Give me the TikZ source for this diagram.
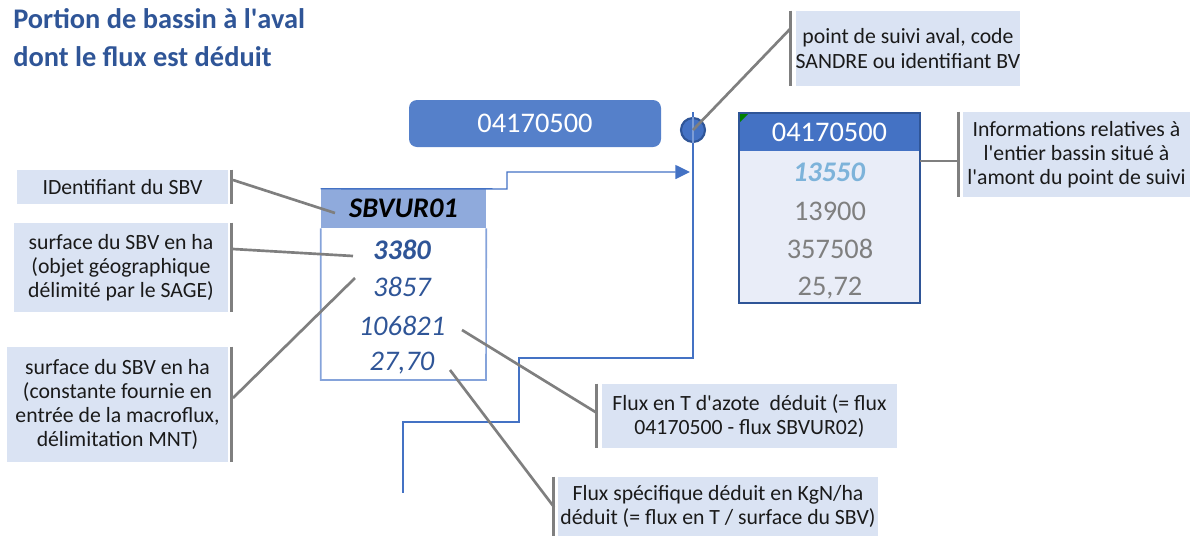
\documentclass[tikz,border=0pt]{standalone}
\usepackage{fontspec}
\setmainfont{Carlito}
\usetikzlibrary{arrows.meta,calc}
\definecolor{titleblue}{HTML}{2F5597}
\definecolor{boxblue}{HTML}{5580CA}
\definecolor{hdrblue}{HTML}{4472C4}
\definecolor{darkblue}{HTML}{2F5597}
\definecolor{sbvhdr}{HTML}{8FAADC}
\definecolor{sbvborder}{HTML}{85A3DA}
\definecolor{rbody}{HTML}{E9EDF8}
\definecolor{callfill}{HTML}{DAE3F3}
\definecolor{bargray}{HTML}{7F7F7F}
\definecolor{leadgray}{HTML}{7F7F7F}
\definecolor{flowblue}{HTML}{4472C4}
\definecolor{valgray}{HTML}{7F7F7F}
\definecolor{lightval}{HTML}{7DB3DA}
\definecolor{txtdark}{HTML}{1A1A1A}
\definecolor{tgreen}{HTML}{008000}
\newcommand{\apos}{\textquotesingle}
\tikzset{
  callout/.style={fill=callfill, align=center, font=\fontsize{16.3}{18.2}\selectfont, text=txtdark, inner sep=0pt},
  bar/.style={draw=bargray, line width=2.4pt},
  leader/.style={draw=leadgray, line width=2pt},
  flow/.style={draw=flowblue, line width=1.1pt},
  val/.style={font=\fontsize{21.3}{24}\selectfont, inner sep=0pt},
}
\begin{document}
\begin{tikzpicture}[x=0.75pt,y=-0.75pt]
\useasboundingbox (0,0) rectangle (1190,536);

% title
\node[anchor=north west, align=left, inner sep=0pt, text=titleblue,
  font=\bfseries\fontsize{21.3}{28.5}\selectfont] (title) at (13,8)
  {Portion de bassin à l\apos aval\\dont le flux est déduit};

% rounded code box
\node[fill=boxblue, rounded corners=6pt, minimum width=189pt, minimum height=35.25pt,
  inner sep=0pt, text=white, font=\fontsize{21.3}{24}\selectfont] (code) at (535,123.5) {04170500};

% blue flow line
\coordinate (ltop) at (693,112);
\coordinate (f1) at (693,358);
\coordinate (f2) at (519,358);
\coordinate (f3) at (519,422);
\coordinate (f4) at (403,422);
\coordinate (f5) at (403,493);

% SBV box
\node[fill=sbvhdr, minimum width=123.75pt, minimum height=29.25pt, inner sep=0pt,
  font=\bfseries\itshape\fontsize{21.3}{24}\selectfont] (sbvh) at (403.5,208.5) {SBVUR01};
\coordinate (sbvbr) at (486,380);
\draw[draw=sbvborder, line width=1.2pt] (sbvh.south west) -- (sbvh.south west |- sbvbr) -- (sbvbr) -- (sbvh.south east);
\node[val, text=titleblue, font=\bfseries\itshape\fontsize{21.3}{24}\selectfont] (v1) at (402,250) {3380};
\node[val, text=titleblue, font=\itshape\fontsize{21.3}{24}\selectfont] (v2) at (402,287) {3857};
\node[val, text=titleblue, font=\itshape\fontsize{21.3}{24}\selectfont] (v3) at (402,326) {106821};
\node[val, text=titleblue, font=\itshape\fontsize{21.3}{24}\selectfont] (v4) at (402,363) {27,70};

% arrow from SBV box to point
\coordinate (aend) at (690,172);
\draw[flow, -{Triangle[length=11pt,width=10.5pt]}] (sbvh.north west) -- (507,189) -- (507,172) -- (aend);

% flow line down
\draw[flow] (ltop) -- (f1) -- (f2) -- (f3) -- (f4) -- (f5);

% point circle
\node[circle, fill=hdrblue, draw=darkblue, line width=1.6pt, minimum size=18pt, inner sep=0pt] (pt) at (693,130) {};
\draw[draw=flowblue!70!white, line width=0.8pt] (pt.north) -- (pt.south);

% right box
\node[fill=hdrblue, minimum width=135.75pt, minimum height=28.5pt, inner sep=0pt,
  text=white, font=\fontsize{21.3}{24}\selectfont] (rh) at (829.5,132) {04170500};
\coordinate (rbr) at (920,303);
\fill[rbody] (rh.south west) rectangle (rbr);
\draw[draw=darkblue, line width=1.5pt] (rh.north west) rectangle (rbr);
\fill[tgreen] (740,114) -- (748,114) -- (740,122) -- cycle;
\node[val, text=lightval, font=\bfseries\itshape\fontsize{21.3}{24}\selectfont] (r1) at (829,172) {13550};
\node[val, text=valgray] (r2) at (830,211) {13900};
\node[val, text=valgray] (r3) at (830,249) {357508};
\node[val, text=valgray] (r4) at (830,288) {25,72};
\coordinate (rmid) at (920,161);

% callouts
\node[callout, minimum width=168pt, minimum height=56.25pt] (c1) at (908,48.5)
  {point de suivi aval, code\\SANDRE ou identifiant BV};
\node[callout, minimum width=170.25pt, minimum height=63.75pt] (c2) at (1076.5,154.5)
  {Informations relatives à\\l\apos entier bassin situé à\\l\apos amont du point de suivi};
\node[callout, minimum width=158.25pt, minimum height=25.5pt] (c3) at (122.5,187)
  {IDentifiant du SBV};
\node[callout, minimum width=160.5pt, minimum height=66.75pt] (c4) at (121,267.5)
  {surface du SBV en ha\\(objet géographique\\délimité par le SAGE)};
\node[callout, minimum width=165.75pt, minimum height=86.25pt] (c5) at (117.5,404.5)
  {surface du SBV en ha\\(constante fournie en\\entrée de la macroflux,\\délimitation MNT)};
\node[callout, minimum width=221.25pt, minimum height=48pt] (c6) at (749.5,416)
  {Flux en T d\apos azote \ déduit (= flux\\04170500 - flux SBVUR02)};
\node[callout, minimum width=240pt, minimum height=44.25pt] (c7) at (718,506.5)
  {Flux spécifique déduit en KgN/ha\\déduit (= flux en T / surface du SBV)};

% bars
\coordinate (b1t) at ($(c1.north west)+(-5,0)$);
\coordinate (b1b) at ($(c1.south west)+(-5,0)$);
\draw[bar] (b1t) -- (b1b);
\coordinate (b2t) at ($(c2.north west)+(-4,0)$);
\coordinate (b2b) at ($(c2.south west)+(-4,0)$);
\draw[bar] (b2t) -- (b2b);
\coordinate (b3t) at ($(c3.north east)+(3,0)$);
\coordinate (b3b) at ($(c3.south east)+(3,0)$);
\draw[bar] (b3t) -- (b3b);
\coordinate (b4t) at ($(c4.north east)+(3,0)$);
\coordinate (b4b) at ($(c4.south east)+(3,0)$);
\draw[bar] (b4t) -- (b4b);
\coordinate (b5t) at ($(c5.north east)+(3,0)$);
\coordinate (b5b) at ($(c5.south east)+(3,0)$);
\draw[bar] (b5t) -- (b5b);
\coordinate (b6t) at ($(c6.north west)+(-5,0)$);
\coordinate (b6b) at ($(c6.south west)+(-5,0)$);
\draw[bar] (b6t) -- (b6b);
\coordinate (b7t) at ($(c7.north west)+(-4,0)$);
\coordinate (b7b) at ($(c7.south west)+(-4,0)$);
\draw[bar] (b7t) -- (b7b);

% leaders
\draw[leader] (pt.center) -- (791,28);
\draw[leader] (rmid) -- (960,161);
\draw[leader] (233,180) -- (335,213);
\draw[leader] (233,249) -- (353,256);
\draw[leader] (233,398) -- (355,278);
\draw[leader] (462,330) -- (597,413);
\draw[leader] (450,370) -- (554,507);
\end{tikzpicture}
\end{document}
